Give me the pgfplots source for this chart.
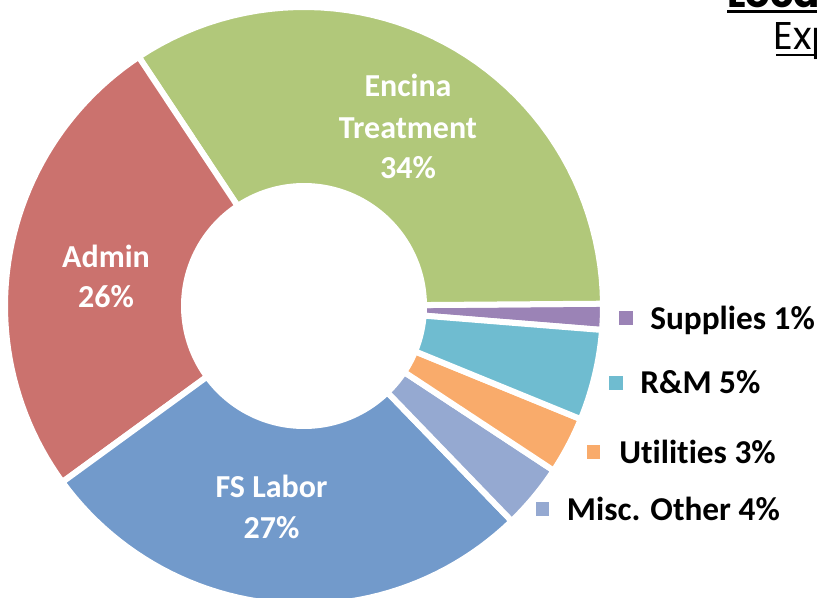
\documentclass[border=0pt]{standalone}
\usepackage{pgfplots}
\pgfplotsset{compat=1.18}
\usepackage{fontspec}
\setmainfont{Carlito}[Ligatures=NoCommon]
\newfontfamily\titlefont{Poppins}

\definecolor{cEnc}{RGB}{177,200,122}
\definecolor{cAdm}{RGB}{203,114,110}
\definecolor{cFS}{RGB}{114,154,203}
\definecolor{cMisc}{RGB}{149,169,209}
\definecolor{cUtil}{RGB}{249,171,107}
\definecolor{cRM}{RGB}{111,188,208}
\definecolor{cSup}{RGB}{155,131,182}

% geometry (axis units = pixels)
\def\cx{304}\def\cy{291}\def\Rout{299}\def\Rin{120}
% shares (percent)
\def\vSup{1.4}\def\vEnc{34.2}\def\vAdm{25.7}\def\vFS{27.2}
\def\vMisc{3.5}\def\vUtil{3.1}\def\vRM{4.9}
\pgfmathsetmacro\aA{-4.6}
\pgfmathsetmacro\aB{\aA+3.6*\vSup}
\pgfmathsetmacro\aC{\aB+3.6*\vEnc}
\pgfmathsetmacro\aD{\aC+3.6*\vAdm}
\pgfmathsetmacro\aE{\aD+3.6*\vFS}
\pgfmathsetmacro\aF{\aE+3.6*\vMisc}
\pgfmathsetmacro\aG{\aF+3.6*\vUtil}
\pgfmathsetmacro\aH{\aG+3.6*\vRM}

\newcommand\slice[3]{%
\addplot[fill=#1, draw=white, line width=4.5pt, domain=0:2, samples=101, variable=\t]
 ({\cx+ifthenelse(\t<1.01,\Rout,\Rin)*cos(ifthenelse(\t<1.01,(#2)+((#3)-(#2))*min(\t,1),(#3)-((#3)-(#2))*max(0,\t-1.02)/0.98))},
  {\cy+ifthenelse(\t<1.01,\Rout,\Rin)*sin(ifthenelse(\t<1.01,(#2)+((#3)-(#2))*min(\t,1),(#3)-((#3)-(#2))*max(0,\t-1.02)/0.98))}) -- cycle;
}
\newcommand\inlab[3]{\node[anchor=base, text=white, font=\bfseries\fontsize{24pt}{24pt}\selectfont, inner sep=0pt] at (axis cs:#1,#2) {#3};}
\newcommand\outlab[3]{\node[anchor=base west, text=black, font=\bfseries\fontsize{25pt}{25pt}\selectfont, inner sep=0pt] at (axis cs:#1,#2) {#3};}

\begin{document}
\begin{tikzpicture}
\path[use as bounding box] (0,0) rectangle (612.75pt,447.75pt);
\begin{axis}[
  at={(0,0)}, anchor=origin,
  width=612.75pt, height=447.75pt, scale only axis,
  xmin=0, xmax=817, ymin=0, ymax=597,
  hide axis, clip=true]
\slice{cSup}{\aA}{\aB}
\slice{cEnc}{\aB}{\aC}
\slice{cAdm}{\aC}{\aD}
\slice{cFS}{\aD}{\aE}
\slice{cMisc}{\aE}{\aF}
\slice{cUtil}{\aF}{\aG}
\slice{cRM}{\aG}{\aH}

% legend-style markers
\addplot[only marks, mark=square*, mark size=4.8pt, color=cSup] coordinates {(625.7,279)};
\addplot[only marks, mark=square*, mark size=4.8pt, color=cRM] coordinates {(615.5,214)};
\addplot[only marks, mark=square*, mark size=4.8pt, color=cUtil] coordinates {(593.3,145.3)};
\addplot[only marks, mark=square*, mark size=4.8pt, color=cMisc] coordinates {(542.3,88)};

% inside labels
\inlab{408}{500.3}{Encina}
\inlab{408}{458.7}{Treatment}
\inlab{408}{418}{34\%}
\inlab{106}{329.7}{Admin}
\inlab{106}{289.3}{26\%}
\inlab{271.5}{99.3}{FS Labor}
\inlab{271.5}{58.7}{27\%}

% outside labels
\outlab{650}{267.7}{Supplies 1\%}
\outlab{640}{203}{R\&M 5\%}
\outlab{619}{133.7}{Ut\kern0pt ilit\kern0pt ies 3\%}
\outlab{566.7}{77}{Misc. Other 4\%}

% title (cropped, as in the reference)
\node[anchor=base west, inner sep=0pt, font=\titlefont\bfseries\fontsize{29pt}{29pt}\selectfont] at (axis cs:727,589) {Location};
\draw[line width=1.7pt] (axis cs:727,585.5) -- (axis cs:900,585.5);
\node[anchor=base west, inner sep=0pt, font=\titlefont\fontsize{29pt}{29pt}\selectfont] at (axis cs:773,547) {Expenses};
\draw[line width=1pt] (axis cs:776,542) -- (axis cs:900,542);
\end{axis}
\end{tikzpicture}
\end{document}
